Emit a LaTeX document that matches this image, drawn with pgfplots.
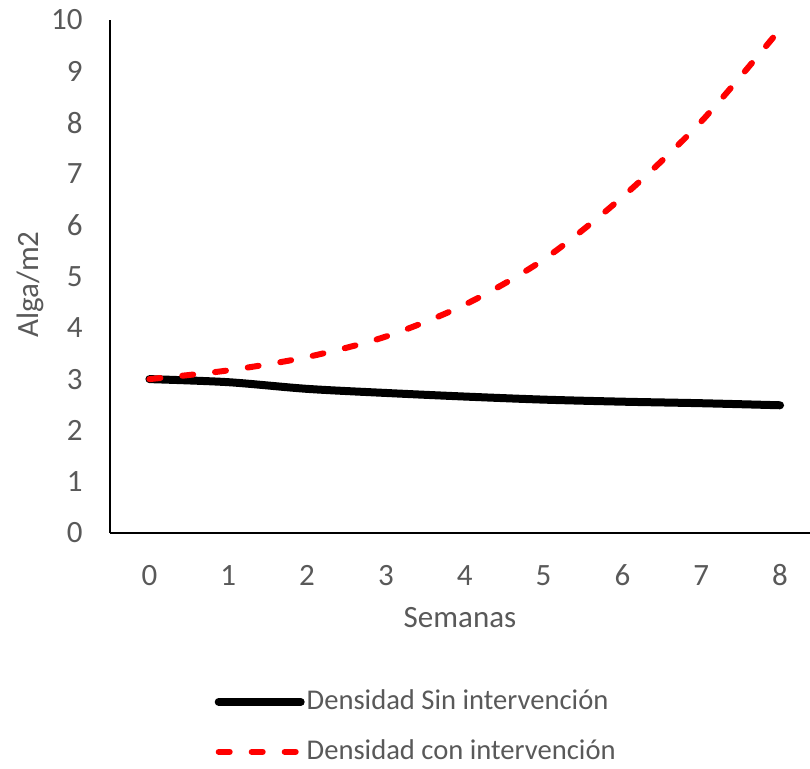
\documentclass[border=0pt]{standalone}
\usepackage{fontspec}
\setmainfont{Carlito}
\usepackage{pgfplots}
\pgfplotsset{compat=1.18}
\definecolor{txtgray}{HTML}{595959}
\begin{document}
\fontsize{15.5}{18}\selectfont
\begin{tikzpicture}
\begin{axis}[
  at={(0pt,0pt)}, anchor=south west,
  scale only axis,
  width=350pt, height=256.5pt,
  xmin=-0.5, xmax=8.38,
  ymin=0, ymax=10,
  axis lines=left,
  axis line style={-, line width=1pt, black},
  xtick={0,...,8}, ytick={0,...,10},
  major tick length=0pt,
  /pgf/number format/assume math mode=true,
  tick label style={font=\fontsize{15.5}{18}\selectfont, text=txtgray},
  xticklabel style={anchor=base, inner sep=0pt, yshift=-26pt},
  yticklabel style={anchor=east, inner sep=0pt, xshift=-13.5pt},
  xlabel={Semanas},
  ylabel={Alga/m2},
  label style={font=\fontsize{15.5}{18}\selectfont, text=txtgray},
  xlabel style={at={(axis description cs:0.5,0)}, anchor=base, inner sep=0pt, yshift=-47pt},
  ylabel style={at={(axis description cs:0,0.5)}, anchor=center, inner sep=0pt, yshift=40pt, xshift=-4pt},
  legend style={at={(axis description cs:0.149,-0.3045)}, anchor=north west, draw=none, fill=none,
    inner sep=0pt, row sep=12.7pt, column sep=1pt,
    nodes={inner sep=0pt, text=txtgray, font=\fontsize{14.3}{17}\selectfont}},
  legend cell align=left,
  legend image code/.code={\draw[#1] (0pt,0pt) -- (41pt,0pt);},
  clip=false,
]
\addplot[black, line width=4pt, line cap=round, smooth, tension=0.5] coordinates {
  (0,3.0) (1,2.94) (2,2.81) (3,2.73) (4,2.66) (5,2.60) (6,2.56) (7,2.53) (8,2.49)};
\addlegendentry{Densidad Sin intervención}
\addplot[red, line width=3pt, line cap=round, dash pattern=on 5.5pt off 11pt, smooth, tension=0.5] coordinates {
  (0,3.0) (1,3.17) (2,3.43) (3,3.83) (4,4.45) (5,5.33) (6,6.55) (7,8.02) (8,9.82)};
\addlegendentry{Densidad con intervención}
\end{axis}
\pgfresetboundingbox
\path[use as bounding box] (-55pt,-117.5pt) rectangle (350pt,266.5pt);
\end{tikzpicture}
\end{document}
